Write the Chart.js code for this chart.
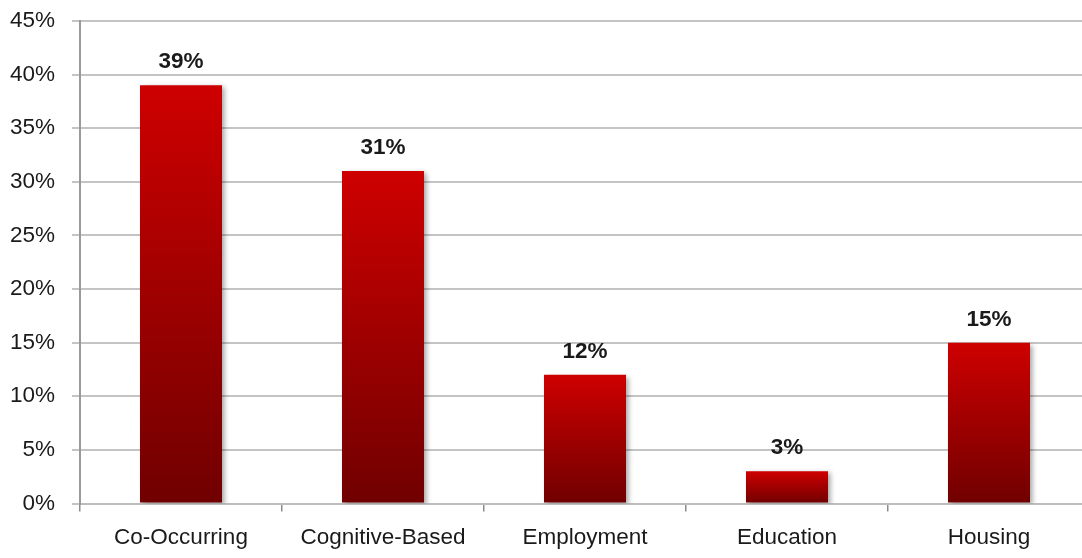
<!DOCTYPE html>
<html>
<head>
<meta charset="utf-8">
<script src="https://cdn.jsdelivr.net/npm/chart.js@4.4.1/dist/chart.umd.min.js"></script>
<style>
  html, body { margin: 0; padding: 0; background: #ffffff; overflow: hidden; }
  #wrap { width: 1092px; height: 558px; }
</style>
</head>
<body>
<div id="wrap"><canvas id="chart" width="1092" height="558"></canvas></div>
<script>
// Categories and their shares (percent)
const categories = ['Co-Occurring', 'Cognitive-Based', 'Employment', 'Education', 'Housing'];
const shares = [39, 31, 12, 3, 15];
// Y axis range and step (percent)
const yMin = 0;
const yMax = 45;
const yStep = 5;

const FONT = '"Liberation Sans", Arial, sans-serif';

// Vertical red gradient spanning each bar from its top to the baseline
function barGradient(ctx) {
  const chart = ctx.chart;
  const area = chart.chartArea;
  if (!area || ctx.type !== 'data') return '#c00000';
  const y = chart.scales.y;
  const top = y.getPixelForValue(ctx.raw);
  const base = y.getPixelForValue(0);
  const g = chart.ctx.createLinearGradient(0, top, 0, base);
  g.addColorStop(0, 'rgb(206,0,0)');
  g.addColorStop(1, 'rgb(112,0,0)');
  return g;
}

// Soft drop shadow behind the bars
const barShadow = {
  id: 'barShadow',
  beforeDatasetsDraw(chart) {
    const c = chart.ctx;
    c.save();
    c.shadowColor = 'rgba(0,0,0,0.35)';
    c.shadowBlur = 5;
    c.shadowOffsetX = 3;
    c.shadowOffsetY = 2;
  },
  afterDatasetsDraw(chart) {
    chart.ctx.restore();
  }
};

// Value labels above each bar
const valueLabels = {
  id: 'valueLabels',
  afterDraw(chart) {
    const c = chart.ctx;
    const meta = chart.getDatasetMeta(0);
    c.save();
    c.fillStyle = '#1a1a1a';
    c.font = 'bold 22.5px ' + FONT;
    c.textAlign = 'center';
    c.textBaseline = 'alphabetic';
    meta.data.forEach((bar, i) => {
      c.fillText(shares[i] + '%', bar.x, bar.y - 17);
    });
    c.restore();
  }
};

new Chart(document.getElementById('chart'), {
  type: 'bar',
  data: {
    labels: categories,
    datasets: [{
      data: shares,
      backgroundColor: barGradient,
      borderWidth: 0,
      categoryPercentage: 1.0,
      barPercentage: 0.406
    }]
  },
  options: {
    responsive: false,
    animation: false,
    devicePixelRatio: 1,
    layout: { autoPadding: false, padding: { top: 21, right: 2, left: 0, bottom: 0 } },
    plugins: {
      legend: { display: false },
      tooltip: { enabled: false }
    },
    scales: {
      x: {
        grid: {
          display: true,
          drawOnChartArea: false,
          drawTicks: true,
          tickLength: 8,
          color: '#8c8c8c',
          lineWidth: 1.5,
          offset: true
        },
        border: { display: true, color: '#bdbdbd', width: 2 },
        ticks: {
          color: '#1a1a1a',
          font: { family: FONT, size: 22.5 },
          padding: 13,
          maxRotation: 0,
          autoSkip: false
        },
        afterFit(scale) {
          scale.height = 54.5;
          scale.paddingLeft = 0;
          scale.paddingRight = 0;
        }
      },
      y: {
        min: yMin,
        max: yMax,
        grid: {
          color: '#c4c4c4',
          lineWidth: 2,
          tickLength: 8,
          drawTicks: true
        },
        border: { display: true, color: '#9a9a9a', width: 2 },
        ticks: {
          stepSize: yStep,
          color: '#1a1a1a',
          font: { family: FONT, size: 22.5 },
          padding: 17,
          callback: v => v + '%'
        },
        afterFit(scale) {
          scale.width = 80;
          scale.paddingTop = 0;
          scale.paddingBottom = 0;
        }
      }
    }
  },
  plugins: [barShadow, valueLabels]
});
</script>
</body>
</html>
